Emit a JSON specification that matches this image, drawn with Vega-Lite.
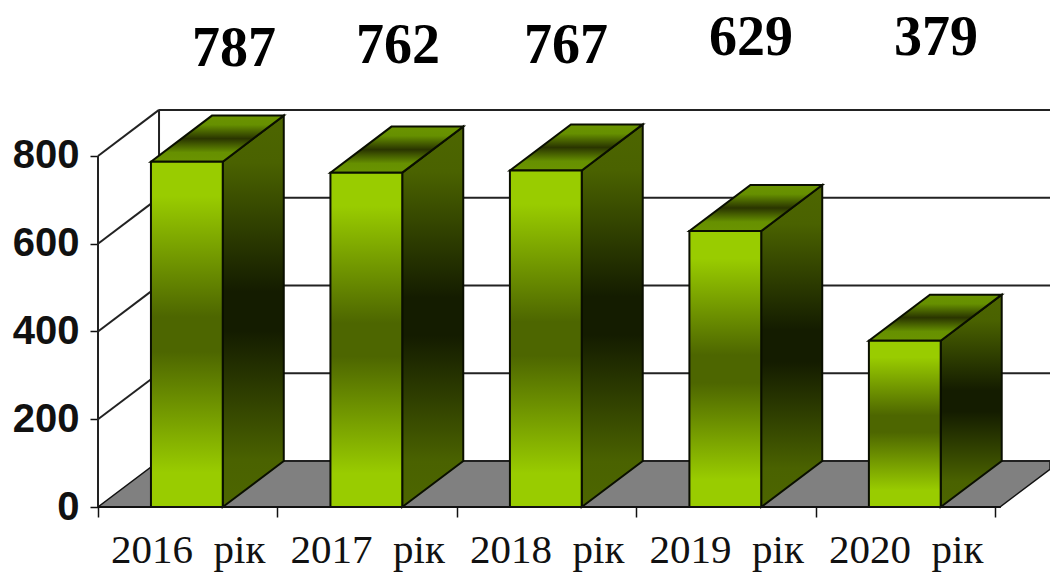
{
"$schema":"https://vega.github.io/schema/vega-lite/v6.json",
"width":952,"height":507,"autosize":{"type":"none"},
"padding":{"left":98,"top":0,"right":0,"bottom":67},
"background":"white",
"config":{"view":{"stroke":null}},
"datasets":{
"bars":[
{"year":"2016 рік","k":0,"value":787,"labelX":0.758,"labelY":1044},
{"year":"2017 рік","k":1,"value":762,"labelX":1.671,"labelY":1050},
{"year":"2018 рік","k":2,"value":767,"labelX":2.607,"labelY":1050},
{"year":"2019 рік","k":3,"value":629,"labelX":3.638,"labelY":1068},
{"year":"2020 рік","k":4,"value":379,"labelX":4.669,"labelY":1068}],
"levels":[{"level":0},{"level":200},{"level":400},{"level":600},{"level":800}],
"floor":[
{"fx":0,"lo":0,"hi":0},
{"fx":0.34,"lo":0,"hi":105},
{"fx":5.025,"lo":0,"hi":105},
{"fx":5.304,"lo":86,"hi":105}]
},
"layer":[
{"data":{"name":"floor"},
 "mark":{"type":"area","orientation":"vertical","fill":"#808080","stroke":"#111111","strokeWidth":1.5},
 "encoding":{
  "x":{"field":"fx","type":"quantitative","scale":{"domain":[0,5.304],"nice":false,"zero":false},
   "axis":{"title":null,"grid":false,"domain":false,"values":[0,0.5,1,1.5,2,2.5,3,3.5,4,4.5,5],
    "tickColor":"#111111","tickWidth":1.5,"tickSize":10,
    "tickOpacity":{"condition":{"test":"datum.value % 1 != 0","value":0},"value":1},
    "labelExpr":"datum.value % 1 == 0 ? '' : (2016 + floor(datum.value)) + '\u00a0\u00a0рік'",
    "labelFont":"Liberation Serif","labelFontSize":41,"labelColor":"#111111","labelPadding":13,"labelOverlap":false,"labelBound":false,"labelFlush":false}},
  "y":{"field":"lo","type":"quantitative","stack":null,"scale":{"domain":[0,1155.5],"nice":false,"zero":false},
   "axis":{"title":null,"grid":false,"domain":false,"values":[0,200,400,600,800],
    "tickColor":"#111111","tickWidth":1.5,"tickSize":8,
    "labelFont":"Liberation Sans","labelFontWeight":"bold","labelFontSize":40,"labelColor":"#111111","labelPadding":11}},
  "y2":{"field":"hi"}}},
{"data":{"name":"levels"},
 "transform":[{"calculate":"datum.level + 105","as":"back"},{"calculate":"0.34","as":"wallX"},{"calculate":"5.304","as":"endX"}],
 "mark":{"type":"rule","stroke":"#222222","strokeWidth":2},
 "encoding":{"x":{"field":"wallX","type":"quantitative"},"x2":{"field":"endX"},"y":{"field":"back","type":"quantitative"}}},
{"data":{"name":"levels"},
 "transform":[{"filter":"datum.level > 0"},{"calculate":"datum.level + 105","as":"back"},{"calculate":"0","as":"x0"},{"calculate":"0.34","as":"x1"}],
 "mark":{"type":"rule","stroke":"#222222","strokeWidth":2},
 "encoding":{"x":{"field":"x0","type":"quantitative"},"x2":{"field":"x1"},"y":{"field":"level","type":"quantitative"},"y2":{"field":"back"}}},
{"data":{"name":"levels"},
 "transform":[{"filter":"datum.level == 800"},{"calculate":"0","as":"x0"},{"calculate":"0","as":"y0"}],
 "mark":{"type":"rule","stroke":"#222222","strokeWidth":2},
 "encoding":{"x":{"field":"x0","type":"quantitative"},"y":{"field":"y0","type":"quantitative"},"y2":{"field":"level"}}},
{"data":{"name":"levels"},
 "transform":[{"filter":"datum.level == 800"},{"calculate":"0.34","as":"x0"},{"calculate":"105","as":"y0"},{"calculate":"datum.level + 105","as":"y1"}],
 "mark":{"type":"rule","stroke":"#222222","strokeWidth":2},
 "encoding":{"x":{"field":"x0","type":"quantitative"},"y":{"field":"y0","type":"quantitative"},"y2":{"field":"y1"}}},
{"data":{"name":"bars"},
 "transform":[
  {"calculate":"[0,1]","as":"c"},{"flatten":["c"]},
  {"calculate":"datum.k + 0.295 + 0.40 + 0.34 * datum.c","as":"sx"},
  {"calculate":"105 * datum.c","as":"lo"},
  {"calculate":"datum.value + 105 * datum.c","as":"hi"}],
 "mark":{"type":"area","orientation":"vertical","stroke":"#0a0f00","strokeWidth":2,
  "fill":{"gradient":"linear","x1":0,"y1":0,"x2":0,"y2":1,"stops":[{"offset":0,"color":"#4d6600"},{"offset":0.12,"color":"#4a6200"},{"offset":0.45,"color":"#141c00"},{"offset":0.55,"color":"#141c00"},{"offset":0.88,"color":"#4a6200"},{"offset":1,"color":"#4d6600"}]}},
 "encoding":{"detail":{"field":"year"},"x":{"field":"sx","type":"quantitative"},"y":{"field":"lo","type":"quantitative","stack":null},"y2":{"field":"hi"}}},
{"data":{"name":"bars"},
 "transform":[
  {"calculate":"[0,1,2,3]","as":"c"},{"flatten":["c"]},
  {"calculate":"datum.k + 0.295 + [0,0.34,0.40,0.74][datum.c]","as":"sx"},
  {"calculate":"datum.value + (datum.c == 3 ? 105 : 0)","as":"lo"},
  {"calculate":"datum.value + (datum.c == 0 ? 0 : 105)","as":"hi"}],
 "mark":{"type":"area","orientation":"vertical","stroke":"#0a0f00","strokeWidth":2,
  "fill":{"gradient":"linear","x1":0,"y1":0,"x2":0,"y2":1,"stops":[{"offset":0,"color":"#6b9400"},{"offset":0.2,"color":"#669000"},{"offset":0.5,"color":"#2a3500"},{"offset":0.8,"color":"#669000"},{"offset":1,"color":"#6b9400"}]}},
 "encoding":{"detail":{"field":"year"},"x":{"field":"sx","type":"quantitative"},"y":{"field":"lo","type":"quantitative","stack":null},"y2":{"field":"hi"}}},
{"data":{"name":"bars"},
 "transform":[{"calculate":"datum.k + 0.295","as":"left"},{"calculate":"datum.k + 0.695","as":"right"},{"calculate":"0","as":"base"}],
 "mark":{"type":"rect","stroke":"#0a0f00","strokeWidth":2,
  "fill":{"gradient":"linear","x1":0,"y1":0,"x2":0,"y2":1,"stops":[{"offset":0,"color":"#99cc00"},{"offset":0.1,"color":"#99cc00"},{"offset":0.45,"color":"#4d6600"},{"offset":0.55,"color":"#4d6600"},{"offset":0.9,"color":"#99cc00"},{"offset":1,"color":"#99cc00"}]}},
 "encoding":{"x":{"field":"left","type":"quantitative"},"x2":{"field":"right"},"y":{"field":"value","type":"quantitative"},"y2":{"field":"base"}}},
{"data":{"name":"levels"},
 "transform":[{"filter":"datum.level == 0"},{"calculate":"0","as":"x0"},{"calculate":"5.03","as":"x1"}],
 "mark":{"type":"rule","stroke":"#111111","strokeWidth":2},
 "encoding":{"x":{"field":"x0","type":"quantitative"},"x2":{"field":"x1"},"y":{"field":"level","type":"quantitative"}}},
{"data":{"name":"bars"},
 "mark":{"type":"text","font":"Liberation Serif","fontWeight":"bold","fontSize":56,"color":"#000000","align":"center","baseline":"middle"},
 "encoding":{"x":{"field":"labelX","type":"quantitative"},"y":{"field":"labelY","type":"quantitative"},"text":{"field":"value","type":"quantitative"}}}
]
}
